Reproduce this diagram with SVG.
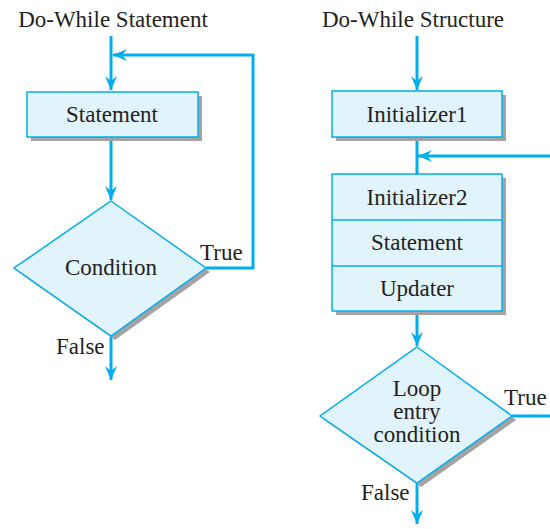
<svg xmlns="http://www.w3.org/2000/svg" width="550" height="529" viewBox="0 0 550 529">
<style>
text{font-family:"Liberation Serif","Times New Roman",serif;font-size:23px;fill:#231f20}
.c{text-anchor:middle}
.box{fill:#e1f3fb;stroke:#00aeef;stroke-width:1.5}
.sh{fill:#a3a3a3}
.ln{fill:none;stroke:#00aeef;stroke-width:3}
.dv{stroke:#00aeef;stroke-width:1.5}
</style>
<defs>
<marker id="ah" markerUnits="userSpaceOnUse" markerWidth="16" markerHeight="14" viewBox="-15 -7 16 14" refX="0" refY="0" orient="auto">
<path d="M0,0 L-14,-6 L-9,0 L-14,6 Z" fill="#00aeef"/>
</marker>
</defs>
<rect width="550" height="529" fill="#fff"/>
<text x="113" y="27" class="c">Do-While Statement</text>
<text x="413" y="27" class="c">Do-While Structure</text>
<g id="connectors">
<line class="ln" x1="111" y1="36" x2="111" y2="90" marker-end="url(#ah)"/>
<polyline class="ln" points="206,268 253,268 253,55 113,55" marker-end="url(#ah)"/>
<line class="ln" x1="111" y1="137" x2="111" y2="200" marker-end="url(#ah)"/>
<line class="ln" x1="111" y1="337" x2="111" y2="380" marker-end="url(#ah)"/>
<line class="ln" x1="417" y1="36" x2="417" y2="90" marker-end="url(#ah)"/>
<line class="ln" x1="417" y1="137" x2="417" y2="174"/>
<line class="ln" x1="550" y1="156" x2="418" y2="156" marker-end="url(#ah)"/>
<line class="ln" x1="417" y1="311" x2="417" y2="346" marker-end="url(#ah)"/>
<line class="ln" x1="512" y1="416" x2="550" y2="416"/>
<line class="ln" x1="417" y1="483" x2="417" y2="524" marker-end="url(#ah)"/>
</g>
<g id="statement">
<rect class="sh" x="31" y="96" width="171" height="45"/>
<rect class="box" x="27" y="92" width="171" height="45"/>
<text x="112" y="122" class="c">Statement</text>
</g>
<g id="condition">
<polygon class="sh" points="115,205 210,272 115,340 18,272"/>
<polygon class="box" points="111,201 206,268 111,336 14,268"/>
<text x="111" y="275" class="c">Condition</text>
<text x="200" y="260">True</text>
<text x="56" y="354">False</text>
</g>
<g id="initializer1">
<rect class="sh" x="336" y="95" width="170" height="46"/>
<rect class="box" x="332" y="91" width="170" height="46"/>
<text x="417" y="122" class="c">Initializer1</text>
</g>
<g id="body">
<rect class="sh" x="336" y="178" width="170" height="137"/>
<rect class="box" x="332" y="174" width="170" height="137"/>
<line class="dv" x1="332" y1="220" x2="502" y2="220"/>
<line class="dv" x1="332" y1="266" x2="502" y2="266"/>
<text x="417" y="205" class="c">Initializer2</text>
<text x="417" y="250" class="c">Statement</text>
<text x="417" y="296" class="c">Updater</text>
</g>
<g id="loop-condition">
<polygon class="sh" points="421,351 516,420 421,487 324,420"/>
<polygon class="box" points="417,347 512,416 417,483 320,416"/>
<text x="417" y="396" class="c">Loop</text>
<text x="417" y="419" class="c">entry</text>
<text x="417" y="442" class="c">condition</text>
<text x="504" y="405">True</text>
<text x="361" y="500">False</text>
</g>
</svg>
